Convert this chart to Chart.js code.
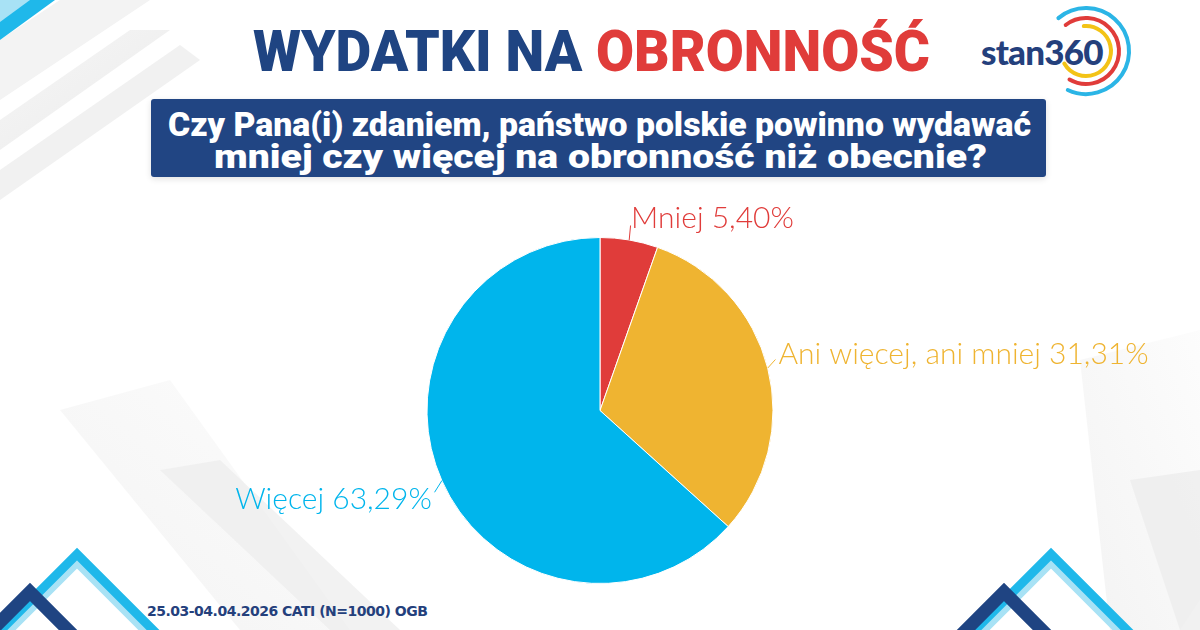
<!DOCTYPE html>
<html lang="pl">
<head>
<meta charset="utf-8">
<script src="https://cdn.jsdelivr.net/npm/chart.js@4.4.1/dist/chart.umd.min.js"></script>
<style>
  html, body { margin: 0; padding: 0; }
  body { width: 1200px; height: 630px; position: relative; overflow: hidden; background: #fff; font-family: Roboto, "Open Sans", sans-serif; }
  #bg { position: absolute; left: 0; top: 0; }
  .fit { position: absolute; white-space: nowrap; transform-origin: 0 0; line-height: 1; }
  #title { top: 22px; font-weight: 900; font-size: 58px; color: #1f4482; }
  #title span { color: #e03c3a; }
  #qbox { position: absolute; left: 151px; top: 99px; width: 895px; height: 78px; background: #214583; border-radius: 3px; box-shadow: 0 2px 6px rgba(0,0,0,0.12); }
  .q { color: #fff; font-weight: 900; font-size: 33px; }
  #footer { position: absolute; left: 147px; top: 603px; font-family: "DejaVu Sans", sans-serif; font-weight: bold; font-size: 14px; color: #24407c; letter-spacing: -0.5px; }
  #logo { position: absolute; left: 970px; top: 0; }
  #wrap { position: absolute; left: 0; top: 190px; width: 1200px; height: 440px; }
</style>
</head>
<body>
<svg id="bg" width="1200" height="630">
  <defs>
    <linearGradient id="g1" x1="0" y1="0" x2="1" y2="1">
      <stop offset="0" stop-color="#f4f4f4"/>
      <stop offset="1" stop-color="#e6e6e6"/>
    </linearGradient>
    <linearGradient id="g2" x1="0" y1="1" x2="1" y2="0">
      <stop offset="0" stop-color="#ebebeb"/>
      <stop offset="1" stop-color="#fbfbfb"/>
    </linearGradient>
  </defs>
  <!-- top-left stripes -->
  <polygon points="0,40 60,0 150,0 0,100" fill="#f3f3f3"/>
  <polygon points="0,120 130,30 170,30 0,150" fill="url(#g1)" opacity="0.8"/>
  <polygon points="0,170 180,45 200,60 0,200" fill="#f1f1f1"/>
  <polygon points="0,0 55,0 0,40" fill="#1fb8ea"/>
  <polygon points="0,0 30,0 0,22" fill="#a8e2f5"/>
  <!-- bottom stripes -->
  <polygon points="60,410 170,380 350,630 240,630" fill="url(#g2)" opacity="0.6"/>
  <polygon points="160,470 220,460 400,630 330,630" fill="#ececec" opacity="0.7"/>
  <polygon points="1080,360 1200,330 1200,600 1180,630 1110,630" fill="url(#g2)" opacity="0.6"/>
  <polygon points="1130,480 1200,470 1200,630 1180,630" fill="#ebebeb" opacity="0.7"/>
  <!-- bottom-left chevrons -->
  <polyline points="-10,650 77,563 167,653" fill="none" stroke="#a8e2f5" stroke-width="8"/>
  <polyline points="-10,641 77,554 176,653" fill="none" stroke="#1fb8ea" stroke-width="9"/>
  <polyline points="-40,662 30,592 100,662" fill="none" stroke="#1f4482" stroke-width="13"/>
  <!-- bottom-right chevrons -->
  <polyline points="964,650 1051,563 1141,653" fill="none" stroke="#a8e2f5" stroke-width="8"/>
  <polyline points="964,641 1051,554 1150,653" fill="none" stroke="#1fb8ea" stroke-width="9"/>
  <polyline points="934,662 1004,592 1074,662" fill="none" stroke="#1f4482" stroke-width="13"/>
</svg>

<div id="title" class="fit" data-x="253" data-w="677">WYDATKI NA <span>OBRONNOŚĆ</span></div>
<div id="qbox"></div>
<div class="fit q" style="top:108px" data-x="168" data-w="863">Czy Pana(i) zdaniem, państwo polskie powinno wydawać</div>
<div class="fit q" style="top:140px" data-x="214" data-w="773">mniej czy więcej na obronność niż obecnie?</div>

<svg id="logo" width="230" height="110">
  <path d="M 88.4 18.1 A 43 43 0 1 1 97.8 90" fill="none" stroke="#2bb5e6" stroke-width="4" stroke-linecap="round"/>
  <path d="M 95.7 25 A 33 33 0 1 1 99.5 79.6" fill="none" stroke="#e03c3a" stroke-width="4" stroke-linecap="round"/>
  <path d="M 113.8 26.1 A 25 25 0 1 1 94.3 63.5" fill="none" stroke="#f3c316" stroke-width="4" stroke-linecap="round"/>
  <text x="11" y="65" font-family="Lato, 'Open Sans', sans-serif" font-weight="900" font-size="35" fill="#24407c" letter-spacing="-0.8">stan360</text>
</svg>

<div id="footer">25.03-04.04.2026 CATI (N=1000) OGB</div>

<div id="wrap"><canvas id="pie"></canvas></div>

<script>
// fit heading lines to the widths measured on the picture
document.querySelectorAll('.fit').forEach(function (el) {
  var w = el.getBoundingClientRect().width;
  var target = +el.dataset.w;
  el.style.left = el.dataset.x + 'px';
  el.style.transform = 'scaleX(' + (target / w) + ')';
});

const categories = ['Mniej', 'Ani więcej, ani mniej', 'Więcej'];
const values = [5.40, 31.31, 63.29];
const colors = ['#e03c3a', '#efb431', '#00b5ec'];

function fmt(v) {
  return v.toFixed(2).replace('.', ',') + '%';
}

// outside labels with a short leader line
const outLabels = {
  id: 'outLabels',
  afterDatasetsDraw(chart) {
    const ctx = chart.ctx;
    const meta = chart.getDatasetMeta(0);
    ctx.save();
    ctx.font = '300 30px Lato, "Open Sans", sans-serif';
    ctx.textBaseline = 'middle';
    meta.data.forEach(function (arc, i) {
      const p = arc.getProps(['x', 'y', 'startAngle', 'endAngle', 'outerRadius'], true);
      const mid = (p.startAngle + p.endAngle) / 2;
      const c = Math.cos(mid), s = Math.sin(mid);
      const r = p.outerRadius;
      const x0 = p.x + c * r, y0 = p.y + s * r;
      const x1 = p.x + c * (r + 8), y1 = p.y + s * (r + 8);
      const dy = s < 0 ? -11 : 14; // push text away from the horizontal middle
      ctx.strokeStyle = colors[i];
      ctx.lineWidth = 1;
      ctx.beginPath();
      ctx.moveTo(x0, y0);
      ctx.lineTo(x1, y1 + dy * 0.6);
      ctx.stroke();
      ctx.fillStyle = colors[i];
      ctx.textAlign = c >= 0 ? 'left' : 'right';
      ctx.fillText(categories[i] + ' ' + fmt(values[i]), p.x + c * (r + 11), p.y + s * (r + 11) + dy);
    });
    ctx.restore();
  }
};

new Chart(document.getElementById('pie'), {
  type: 'pie',
  data: {
    labels: categories,
    datasets: [{
      data: values,
      backgroundColor: colors,
      borderColor: '#ffffff',
      borderWidth: 1
    }]
  },
  options: {
    responsive: true,
    maintainAspectRatio: false,
    animation: false,
    layout: { padding: { top: 47, bottom: 46 } },
    plugins: {
      legend: { display: false },
      tooltip: { enabled: false }
    }
  },
  plugins: [outLabels]
});
</script>
</body>
</html>
